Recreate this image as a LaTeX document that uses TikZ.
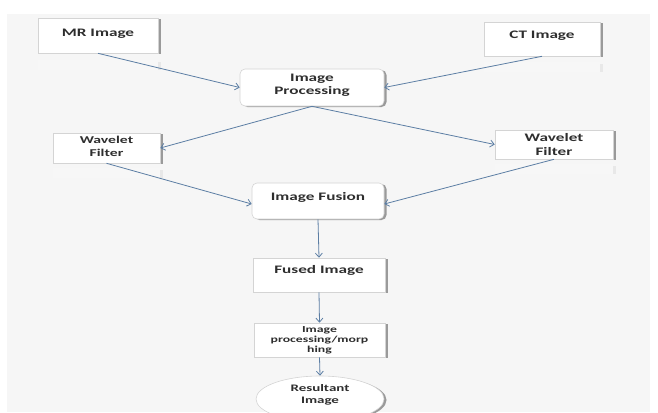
\documentclass[tikz,border=0pt]{standalone}
\usepackage{fontspec}
\setmainfont{Carlito}[FakeStretch=1.5]
\usetikzlibrary{arrows.meta,shapes.geometric,shadows}
\definecolor{bgc}{HTML}{F6F6F6}
\definecolor{arr}{RGB}{92,126,164}
\definecolor{txt}{HTML}{2E2E2E}
\definecolor{edge}{HTML}{D4D4D4}
\tikzset{
  boxstyle/.style={draw=edge, line width=0.6bp, fill=white, text=txt,
    font=\fontsize{11.5}{13.5}\selectfont\bfseries, align=center, inner sep=0pt,
    drop shadow={shadow xshift=2.5bp, shadow yshift=-1bp, fill=black!55, opacity=0.7}},
  rbox/.style={boxstyle, rounded corners=5bp},
  conn/.style={draw=arr, line width=0.8bp, -{Straight Barb[length=4bp,width=7bp]}},
  refl/.style={fill=black!3, draw=none},
  reflside/.style={fill=black!9, draw=none}
}
\begin{document}
\begin{tikzpicture}[x=1bp,y=-1bp]
\useasboundingbox (0,0) rectangle (658,412);
\fill[white] (0,0) rectangle (658,412);
\fill[bgc] (7,14) rectangle (650,412);
% faint reflections
\fill[refl] (38,60) rectangle (158,70);
\fill[reflside] (158,62) rectangle (161,70);
\fill[refl] (484,62) rectangle (600,72);
\fill[reflside] (600,64) rectangle (603,72);
\fill[refl] (53,168) rectangle (160,178);
\fill[reflside] (160,170) rectangle (163,178);
\fill[refl] (495,164) rectangle (613,174);
\fill[reflside] (613,166) rectangle (616,174);
% nodes
\node[boxstyle, minimum width=120bp, minimum height=35bp, text depth=5.3bp] (mr) at (98,35.5) {MR Image};
\node[boxstyle, minimum width=116bp, minimum height=34bp, text depth=8.3bp] (ct) at (542,39) {CT Image};
\node[rbox, minimum width=144bp, minimum height=37bp, text depth=6.3bp] (ip) at (312,87.5) {Image\\Processing};
\node[boxstyle, minimum width=107bp, minimum height=30bp, text depth=3bp, font=\fontsize{10.5}{13}\selectfont\bfseries] (wfl) at (106.5,148) {Wavelet\\Filter};
\node[boxstyle, minimum width=118bp, minimum height=29bp] (wfr) at (554,144.5) {Wavelet\\Filter};
\node[rbox, minimum width=132bp, minimum height=36bp, text depth=8.3bp] (if) at (318,201) {Image Fusion};
\node[boxstyle, minimum width=132bp, minimum height=34bp, text depth=10.3bp] (fused) at (319,275) {Fused Image};
\node[boxstyle, minimum width=131bp, minimum height=34bp, font=\fontsize{9.2}{10}\selectfont\bfseries] (ipm) at (319.5,340) {Image\\processing/morp\\hing};
\node[boxstyle, ellipse, minimum width=128bp, minimum height=46bp, text depth=10.3bp, font=\fontsize{10}{12}\selectfont\bfseries] (res) at (320,399) {Resultant\\Image};
% connectors
\draw[conn] (mr.south) -- (ip.west);
\draw[conn] (ct.south) -- (ip.east);
\draw[conn] (ip.south) -- (wfl.east);
\draw[conn] (ip.south) -- (wfr.west);
\draw[conn] (wfl.south) -- ([yshift=-3bp]if.west);
\draw[conn] (wfr.south) -- ([yshift=-3bp]if.east);
\draw[conn] (if.south) -- (fused.north);
\draw[conn] (fused.south) -- (ipm.north);
\draw[conn] (ipm.south) -- (res.north);
\end{tikzpicture}
\end{document}
